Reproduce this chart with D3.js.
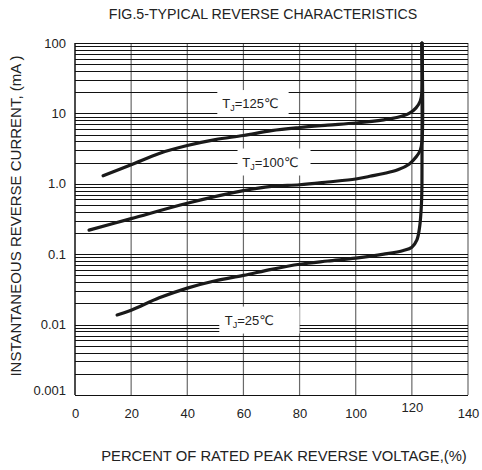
<!DOCTYPE html>
<html>
<head>
<meta charset="utf-8">
<script src="https://cdn.jsdelivr.net/npm/d3@7"></script>
<style>
  html, body { margin: 0; padding: 0; background: #fff; }
  svg { display: block; }
  text { font-family: "Liberation Sans", Arial, "DejaVu Sans", sans-serif; fill: #222; }
</style>
</head>
<body>
<svg id="chart" width="482" height="470"></svg>
<script>
// ---- data ----
const xTicks = [0, 20, 40, 60, 80, 100, 120, 140];
const xTickLabels = ["0", "20", "40", "60", "80", "100", "120", "140"];
const yTicks = [100, 10, 1, 0.1, 0.01, 0.001];
const yTickLabels = ["100", "10", "1.0", "0.1", "0.01", "0.001"];

const pct125 = [10, 20, 30, 40, 50, 60, 70, 80, 90, 100, 110, 115, 119, 121.5, 123, 123.6, 123.6];
const cur125 = [1.3, 1.86, 2.7, 3.5, 4.25, 4.85, 5.7, 6.3, 6.8, 7.3, 8.1, 8.8, 10.0, 12, 15, 20, 100];

const pct100 = [5, 20, 40, 60, 70, 80, 90, 100, 105, 110, 115, 119, 121.5, 123, 123.6, 123.6];
const cur100 = [0.22, 0.32, 0.53, 0.8, 0.92, 0.97, 1.06, 1.17, 1.28, 1.4, 1.58, 1.9, 2.4, 3.0, 4.0, 100];

const pct25 = [15, 20, 30, 40, 50, 60, 70, 80, 90, 100, 110, 117, 120, 121.8, 122.8, 123.4, 123.6, 123.6];
const cur25 = [0.0137, 0.016, 0.024, 0.033, 0.042, 0.05, 0.061, 0.072, 0.08, 0.088, 0.1, 0.113, 0.126, 0.16, 0.25, 0.5, 1, 100];

const seriesNames = ["125", "100", "25"];
const labelPct = [62.5, 69.6, 62.1];
const labelCur = [13.8, 2.04, 0.0116];
const labelGapFrom = [50.7, 57.9, 51.4];
const labelGapTo = [76.1, 83.9, 80];

const titleText = "FIG.5-TYPICAL REVERSE CHARACTERISTICS";
const xTitle = "PERCENT OF RATED PEAK REVERSE VOLTAGE,(%)";
const yTitle = "INSTANTANEOUS REVERSE CURRENT, (mA )";

// ---- chart ----
const svg = d3.select("#chart");
const x = d3.scaleLinear().domain([0, 140]).range([75, 468]);
const y = d3.scaleLog().domain([0.001, 100]).range([395, 43]);

// minor/major horizontal grid values
const hGrid = [];
for (let e = -3; e < 2; e++) {
  for (let m = 1; m <= 9; m++) hGrid.push(m * Math.pow(10, e));
}
hGrid.push(100);

const grid = svg.append("g");
grid.selectAll("line.v").data(xTicks.slice(1)).join("line")
  .attr("x1", d => x(d)).attr("x2", d => x(d))
  .attr("y1", y(100)).attr("y2", y(0.001))
  .attr("stroke", "#6a6a6a").attr("stroke-width", 1.2);
grid.selectAll("line.h").data(hGrid).join("line")
  .attr("x1", x(0)).attr("x2", x(140))
  .attr("y1", d => Math.round(y(d)) + 0.5).attr("y2", d => Math.round(y(d)) + 0.5)
  .attr("stroke", "#111").attr("stroke-width", 1);
// left axis line
grid.append("line")
  .attr("x1", x(0)).attr("x2", x(0)).attr("y1", y(100)).attr("y2", y(0.001))
  .attr("stroke", "#111").attr("stroke-width", 1.5);

// label boxes (white, hide grid)
const labels = seriesNames.map((n, i) => ({
  name: n, p: labelPct[i], v: labelCur[i], g0: labelGapFrom[i], g1: labelGapTo[i]
}));
svg.append("g").selectAll("rect").data(labels).join("rect")
  .attr("x", d => x(d.g0)).attr("width", d => x(d.g1) - x(d.g0))
  .attr("y", d => y(d.v) - 13.5).attr("height", 27)
  .attr("fill", "#fff");

// curves
const line = d3.line()
  .x(d => x(d[0])).y(d => y(d[1]))
  .curve(d3.curveCatmullRom.alpha(0.5));
const series = [
  d3.zip(pct125, cur125),
  d3.zip(pct100, cur100),
  d3.zip(pct25, cur25)
];
svg.append("g").selectAll("path").data(series).join("path")
  .attr("d", line)
  .attr("fill", "none").attr("stroke", "#1a1a1a")
  .attr("stroke-width", 3.2).attr("stroke-linejoin", "round").attr("stroke-linecap", "round");

// labels
const lt = svg.append("g").selectAll("text").data(labels).join("text")
  .attr("x", d => x(d.p)).attr("y", d => y(d.v) + 4.5)
  .attr("text-anchor", "middle").attr("font-size", 13);
lt.append("tspan").text("T");
lt.append("tspan").text("J").attr("font-size", 9).attr("dy", 3);
lt.append("tspan").text(d => "=" + d.name + "\u2103").attr("dy", -3);

// axes
const yAxis = d3.axisLeft(y).tickValues(yTicks)
  .tickFormat((d, i) => yTickLabels[i]).tickSize(0).tickPadding(9);
const gy = svg.append("g").attr("transform", `translate(${x(0)},0)`).call(yAxis);
gy.select(".domain").remove();
gy.selectAll("text").attr("font-size", 13).attr("fill", "#333")
  .attr("font-family", '"Liberation Sans", Arial, sans-serif');
gy.selectAll(".tick").filter(d => d === 0.001).select("text").attr("dy", "-0.05em");

const xAxis = d3.axisBottom(x).tickValues(xTicks)
  .tickFormat((d, i) => xTickLabels[i]).tickSize(0).tickPadding(14);
const gx = svg.append("g").attr("transform", `translate(0,${y(0.001)})`).call(xAxis);
gx.select(".domain").remove();
gx.selectAll("text").attr("font-size", 13).attr("fill", "#333")
  .attr("font-family", '"Liberation Sans", Arial, sans-serif');
gx.selectAll(".tick").filter(d => d === 120).select("text").attr("dy", "0.25em");

// titles
svg.append("text").attr("x", 263).attr("y", 19).attr("text-anchor", "middle")
  .attr("font-size", 14.2).text(titleText);
svg.append("text").attr("x", 284).attr("y", 461).attr("text-anchor", "middle")
  .attr("font-size", 14.8).text(xTitle);
svg.append("text").attr("transform", "translate(21,216) rotate(-90)")
  .attr("text-anchor", "middle").attr("font-size", 15).text(yTitle);
</script>
</body>
</html>
